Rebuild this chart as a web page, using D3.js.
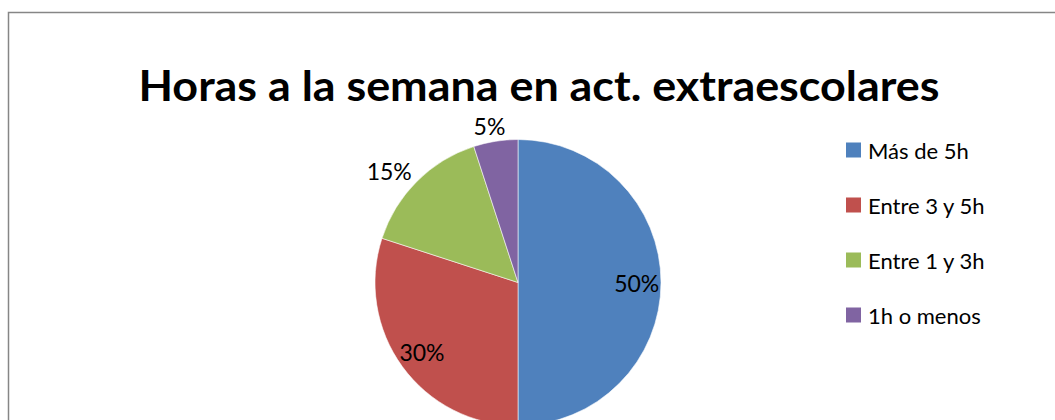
<!DOCTYPE html>
<html>
<head>
<meta charset="utf-8">
<script src="https://cdn.jsdelivr.net/npm/d3@7"></script>
<style>
  html, body { margin: 0; padding: 0; background: #fff; }
  svg { display: block; }
  text { font-family: Lato, "Open Sans", sans-serif; }
</style>
</head>
<body>
<svg id="chart" width="1055" height="420"></svg>
<script>
const categories = ["Más de 5h", "Entre 3 y 5h", "Entre 1 y 3h", "1h o menos"];
const values = [50, 30, 15, 5];
const labels = ["50%", "30%", "15%", "5%"];
const colors = ["#4F81BD", "#C0504D", "#9BBB59", "#8064A2"];
const title = "Horas a la semana en act. extraescolares";

const svg = d3.select("#chart");
const W = 1055, H = 420;

// chart border
svg.append("rect")
  .attr("x", 8.5).attr("y", 12.5)
  .attr("width", W + 10).attr("height", H + 10)
  .attr("fill", "#fff").attr("stroke", "#868686").attr("stroke-width", 1.5);

// title
svg.append("text")
  .attr("x", 539).attr("y", 101)
  .attr("text-anchor", "middle")
  .attr("font-weight", "bold")
  .attr("font-size", 42)
  .attr("textLength", 801)
  .attr("lengthAdjust", "spacingAndGlyphs")
  .attr("fill", "#000")
  .text(title);

const cx = 518, cy = 282.5, r = 143;
const data = categories.map((c, i) => ({ cat: c, value: values[i], label: labels[i], color: colors[i] }));

const pie = d3.pie().sort(null).value(d => d.value);
const arcs = pie(data);
const arc = d3.arc().innerRadius(0).outerRadius(r);
const inArc = d3.arc().innerRadius(r * 0.83).outerRadius(r * 0.83);
const outArc = d3.arc().innerRadius(r * 1.12).outerRadius(r * 1.12);

const g = svg.append("g").attr("transform", `translate(${cx},${cy})`);
g.selectAll("path.slice").data(arcs).enter().append("path")
  .attr("class", "slice")
  .attr("d", arc)
  .attr("fill", d => d.data.color)
  .attr("stroke", "#fff").attr("stroke-width", 0.8).attr("stroke-opacity", 0.7);

g.selectAll("text.lbl").data(arcs).enter().append("text")
  .attr("class", "lbl")
  .attr("font-size", 23)
  .attr("fill", "#000")
  .attr("text-anchor", "middle")
  .attr("dominant-baseline", "central")
  .attr("transform", d => {
    const frac = (d.endAngle - d.startAngle) / (2 * Math.PI);
    if (frac >= 0.2) {
      const [x, y] = inArc.centroid(d);
      return `translate(${x},${y})`;
    }
    const [x, y] = outArc.centroid(d);
    const mid = (d.startAngle + d.endAngle) / 2;
    return `translate(${x + Math.sin(mid) * 22},${y + 2})`;
  })
  .text(d => d.data.label);

// legend
const ly = d3.scalePoint().domain(categories).range([150, 315]);
const lg = svg.append("g");
const items = lg.selectAll("g").data(data).enter().append("g")
  .attr("transform", d => `translate(846,${ly(d.cat)})`);
items.append("rect")
  .attr("x", 0).attr("y", -7.5).attr("width", 15).attr("height", 15)
  .attr("fill", d => d.color);
items.append("text")
  .attr("x", 22).attr("y", 0)
  .attr("dominant-baseline", "central")
  .attr("font-size", 22)
  .attr("fill", "#000")
  .text(d => d.cat);
</script>
</body>
</html>
